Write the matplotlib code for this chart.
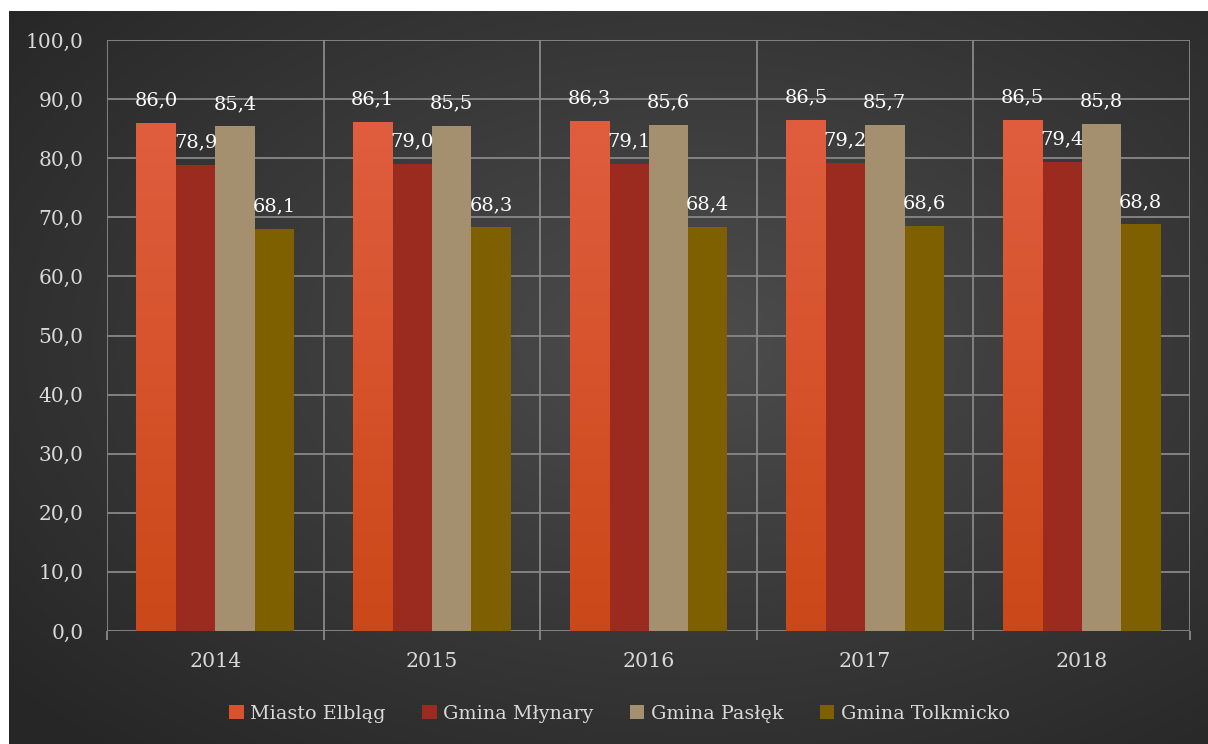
import numpy as np
import matplotlib
matplotlib.use("Agg")
import matplotlib.pyplot as plt
from matplotlib.ticker import FixedLocator, FuncFormatter

years = ["2014", "2015", "2016", "2017", "2018"]
series_names = ["Miasto Elbląg", "Gmina Młynary", "Gmina Pasłęk", "Gmina Tolkmicko"]
elblag = [86.0, 86.1, 86.3, 86.5, 86.5]
mlynary = [78.9, 79.0, 79.1, 79.2, 79.4]
paslek = [85.4, 85.5, 85.6, 85.7, 85.8]
tolkmicko = [68.1, 68.3, 68.4, 68.6, 68.8]
colors = ["#d9522e", "#9c2b1f", "#a48f6e", "#7f6000"]

plt.rcParams['font.family'] = ['DejaVu Serif']

fig = plt.figure(figsize=(12.08, 7.44), dpi=100)
fig.patch.set_facecolor("white")

# radial gradient background
bg = fig.add_axes([9 / 1208, 0, 1 - 9 / 1208, 1 - 11 / 744], zorder=-10)
yy, xx = np.mgrid[0:1:300j, 0:1:500j]
r = np.sqrt(((xx - 0.57) / 0.75) ** 2 + ((yy - 0.45) / 0.75) ** 2)
r = np.clip(r, 0, 1)
c_in, c_out = 0.30, 0.15
img = c_in + (c_out - c_in) * r
bg.imshow(np.dstack([img, img, img]), aspect="auto", extent=[0, 1, 0, 1], interpolation="bilinear")
bg.set_axis_off()

ax = fig.add_axes([107 / 1208, 1 - 631 / 744, (1190 - 107) / 1208, (631 - 40) / 744])
ax.patch.set_alpha(0)

x = np.arange(len(years))
w = 0.182
data = [elblag, mlynary, paslek, tolkmicko]
grid_c = "#888888"

for i, (vals, col, name) in enumerate(zip(data, colors, series_names)):
    bars = ax.bar(x + (i - 1.5) * w, vals, w, color=col, label=name, zorder=3, linewidth=0)
    if i == 0:
        grad = np.linspace(0, 1, 100).reshape(-1, 1)
        top = np.array([0.878, 0.365, 0.243])
        bot = np.array([0.796, 0.282, 0.098])
        rgb = top + (bot - top) * grad[:, :, None]
        for b in bars:
            im = ax.imshow(rgb, aspect="auto", zorder=3.5,
                           extent=[b.get_x(), b.get_x() + b.get_width(), 0, b.get_height()],
                           interpolation="bilinear")
            im.set_clip_path(b)
    for xi, v in zip(x + (i - 1.5) * w, vals):
        ax.annotate(f"{v:.1f}".replace(".", ","), (xi, v), xytext=(0, 12.5),
                    textcoords="offset points", ha="center", va="baseline",
                    color="white", fontsize=14, zorder=5)

ax.set_xlim(-0.5, len(years) - 0.5)
ax.set_ylim(0, 100)
ax.set_yticks(np.arange(0, 101, 10))
ax.yaxis.set_major_formatter(FuncFormatter(lambda v, p: f"{v:.1f}".replace(".", ",")))
ax.set_xticks(x)
ax.set_xticklabels(years)
ax.xaxis.set_minor_locator(FixedLocator(np.arange(-0.5, len(years), 1)))
ax.grid(axis="y", which="major", color=grid_c, linewidth=1.3, zorder=1)
ax.grid(axis="x", which="minor", color=grid_c, linewidth=1.3, zorder=1)
ax.tick_params(axis="x", which="major", length=0, pad=15, labelcolor="#d9d9d9", labelsize=14.8)
ax.tick_params(axis="x", which="minor", length=6.5, color=grid_c, width=1.3)
ax.tick_params(axis="y", length=0, pad=17, labelcolor="#d9d9d9", labelsize=14.5)
for s in ax.spines.values():
    s.set_visible(False)
ax.set_axisbelow(True)

leg = fig.legend(loc="center", bbox_to_anchor=(0.513, 1 - 714 / 744), ncol=4, frameon=False,
                 handlelength=0.75, handleheight=0.75, handletextpad=0.35, columnspacing=1.9,
                 fontsize=13.8)
for t in leg.get_texts():
    t.set_color("#d9d9d9")

fig.savefig("out.png", dpi=100, facecolor=fig.get_facecolor())
